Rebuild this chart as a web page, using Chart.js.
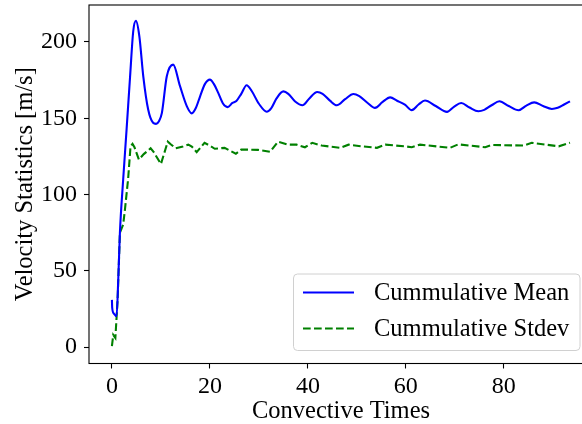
<!DOCTYPE html>
<html>
<head>
<meta charset="utf-8">
<script src="https://cdn.jsdelivr.net/npm/chart.js@4/dist/chart.umd.min.js"></script>
<style>
  html, body { margin: 0; padding: 0; overflow: hidden; background: #fff; }
  #wrap { width: 600px; height: 424px; }
</style>
</head>
<body>
<div id="wrap"><canvas id="c" width="600" height="424"></canvas></div>
<script>
// ---- data ----
const meanX = [0, 0.05, 0.4, 0.95, 1.3, 1.63, 2.3, 3.0, 3.7, 4.35, 4.9, 5.6, 6.4, 7.4, 8.4, 9.0, 9.6, 10.2, 11.2, 12.5, 13.9, 15.3, 16.3, 17.1, 18.0, 19.0, 20.0, 20.8, 21.7, 22.7, 23.6, 24.6, 25.4, 26.4, 27.5, 28.5, 30.0, 31.6, 32.5, 33.6, 35.0, 36.0, 37.4, 38.9, 40.3, 41.9, 43.0, 44.5, 45.9, 47.6, 49.3, 50.5, 52.2, 53.7, 55.2, 56.8, 58.2, 59.8, 61.2, 62.6, 63.9, 66.1, 68.4, 69.8, 71.3, 73.0, 74.8, 76.0, 77.5, 79.1, 81.0, 83.0, 84.6, 86.2, 88.0, 89.8, 91.0, 92.3, 93.5];
const meanY = [31, 26, 22, 20.3, 45, 75, 110, 143, 177, 207, 213.8, 203.7, 177.5, 155.7, 147, 146.3, 148, 153.5, 177.5, 185.1, 171, 157.8, 153.2, 156.5, 164.4, 172.5, 175.3, 172.5, 166.6, 159.5, 157.3, 160, 161.3, 166, 171.6, 168, 159.5, 154.3, 156.5, 163, 167.6, 166, 161, 158.5, 163, 167.2, 166, 161.5, 158.5, 162.5, 165.9, 164.5, 160, 156.8, 160.5, 163.7, 161.5, 158.9, 155.3, 159, 161.6, 158, 154.2, 157.5, 160, 157, 154.6, 155.5, 158.5, 161.1, 158, 155.2, 158.3, 160.4, 158, 156.1, 156.8, 159, 161.1];
const stdX = [0, 0.27, 0.7, 1.16, 1.63, 2.0, 2.3, 2.65, 3.3, 3.8, 4.2, 4.6, 5.5, 6.5, 7.9, 8.5, 10.0, 11.4, 12.0, 13.0, 14.5, 15.6, 16.3, 17.3, 18.9, 20.0, 21.0, 23.0, 25.3, 26.4, 29.8, 32.3, 33.9, 36.0, 37.7, 39.4, 40.9, 42.8, 46.6, 48.3, 51.0, 54.1, 55.8, 59.8, 61.2, 62.9, 69.0, 70.7, 76.2, 77.5, 84.0, 85.7, 91.2, 93.5];
const stdY = [0.7, 8, 6, 31, 75, 78, 80.3, 90, 110, 131.6, 133.2, 131, 122.9, 126.5, 130.3, 128, 120, 134.7, 133, 130.3, 131.5, 132.7, 131.5, 127.8, 133.9, 132, 130, 130.6, 126.7, 129.5, 129.3, 128, 134.6, 132.7, 132.7, 131.0, 133.9, 132.1, 130.6, 132.7, 131.6, 130.6, 132.7, 131.6, 131.0, 132.7, 130.6, 132.9, 131.0, 132.5, 132.1, 133.9, 131.6, 133.9];
const xTicks = [0, 20, 40, 60, 80];
const yTicks = [0, 50, 100, 150, 200];
const seriesLabels = ['Cummulative Mean', 'Cummulative Stdev'];
const xTitle = 'Convective Times';
const yTitle = 'Velocity Statistics [m/s]';

const toPts = (xs, ys) => xs.map((x, i) => ({ x: x, y: ys[i] }));
const FONT = 'Liberation Serif, Times New Roman, serif';

const framePlugin = {
  id: 'frame',
  afterDatasetsDraw(chart) {
    const a = chart.chartArea, ctx = chart.ctx;
    ctx.save();
    ctx.strokeStyle = '#000';
    ctx.lineWidth = 1.1;
    ctx.strokeRect(a.left, a.top, a.right - a.left, a.bottom - a.top);
    ctx.restore();
  }
};

const legendPlugin = {
  id: 'boxLegend',
  afterDraw(chart) {
    const ctx = chart.ctx;
    const x0 = 293.5, y0 = 274, w = 286.5, h = 76.5, r = 4;
    ctx.save();
    ctx.beginPath();
    ctx.moveTo(x0 + r, y0);
    ctx.arcTo(x0 + w, y0, x0 + w, y0 + h, r);
    ctx.arcTo(x0 + w, y0 + h, x0, y0 + h, r);
    ctx.arcTo(x0, y0 + h, x0, y0, r);
    ctx.arcTo(x0, y0, x0 + w, y0, r);
    ctx.closePath();
    ctx.fillStyle = 'rgba(255,255,255,0.8)';
    ctx.fill();
    ctx.strokeStyle = '#d0d0d0';
    ctx.lineWidth = 1;
    ctx.stroke();
    const rows = [292.5, 328.5];
    chart.data.datasets.forEach((ds, i) => {
      const y = rows[i];
      ctx.beginPath();
      ctx.setLineDash(ds.borderDash || []);
      ctx.strokeStyle = ds.borderColor;
      ctx.lineWidth = ds.borderWidth;
      ctx.moveTo(303, y);
      ctx.lineTo(354, y);
      ctx.stroke();
      ctx.setLineDash([]);
      ctx.fillStyle = '#000';
      ctx.font = '24.5px ' + FONT;
      ctx.textBaseline = 'middle';
      ctx.textAlign = 'left';
      ctx.fillText(ds.label, 374, y + 1);
    });
    ctx.restore();
  }
};

new Chart(document.getElementById('c'), {
  type: 'line',
  data: {
    datasets: [
      { label: seriesLabels[0], data: toPts(meanX, meanY), borderColor: '#0000ff', borderWidth: 2.1,
        pointRadius: 0, cubicInterpolationMode: 'monotone', fill: false },
      { label: seriesLabels[1], data: toPts(stdX, stdY), borderColor: '#008000', borderWidth: 2.1,
        borderDash: [7.7, 3.3], pointRadius: 0, tension: 0, fill: false }
    ]
  },
  options: {
    responsive: false,
    animation: false,
    devicePixelRatio: 1,
    layout: { padding: { top: 5, right: 7, left: 0, bottom: 0 } },
    plugins: { legend: { display: false }, tooltip: { enabled: false } },
    scales: {
      x: {
        type: 'linear', min: -4.68, max: 98.2,
        afterBuildTicks: s => { s.ticks = xTicks.map(v => ({ value: v })); },
        afterFit: s => { s.height = 60.5; s.paddingLeft = 0; s.paddingRight = 0; },
        border: { display: false },
        grid: { display: true, drawOnChartArea: false, drawTicks: true, tickLength: 5, tickColor: '#000', tickWidth: 1.1 },
        ticks: { color: '#000', font: { family: FONT, size: 24 }, padding: 4, maxRotation: 0, autoSkip: false },
        title: { display: true, text: xTitle, color: '#000', font: { family: FONT, size: 24.5, lineHeight: 1 }, padding: { top: 0, bottom: 0 } }
      },
      y: {
        type: 'linear', min: -10.7, max: 224.2,
        afterBuildTicks: s => { s.ticks = yTicks.map(v => ({ value: v })); },
        afterFit: s => { s.width = 89; s.paddingTop = 0; s.paddingBottom = 0; },
        border: { display: false },
        grid: { display: true, drawOnChartArea: false, drawTicks: true, tickLength: 5, tickColor: '#000', tickWidth: 1.1 },
        ticks: { color: '#000', font: { family: FONT, size: 24 }, padding: 7, autoSkip: false },
        title: { display: true, text: yTitle, color: '#000', font: { family: FONT, size: 24.5, lineHeight: 1 }, padding: { top: 13, bottom: 0 } }
      }
    }
  },
  plugins: [framePlugin, legendPlugin]
});
</script>
</body>
</html>
